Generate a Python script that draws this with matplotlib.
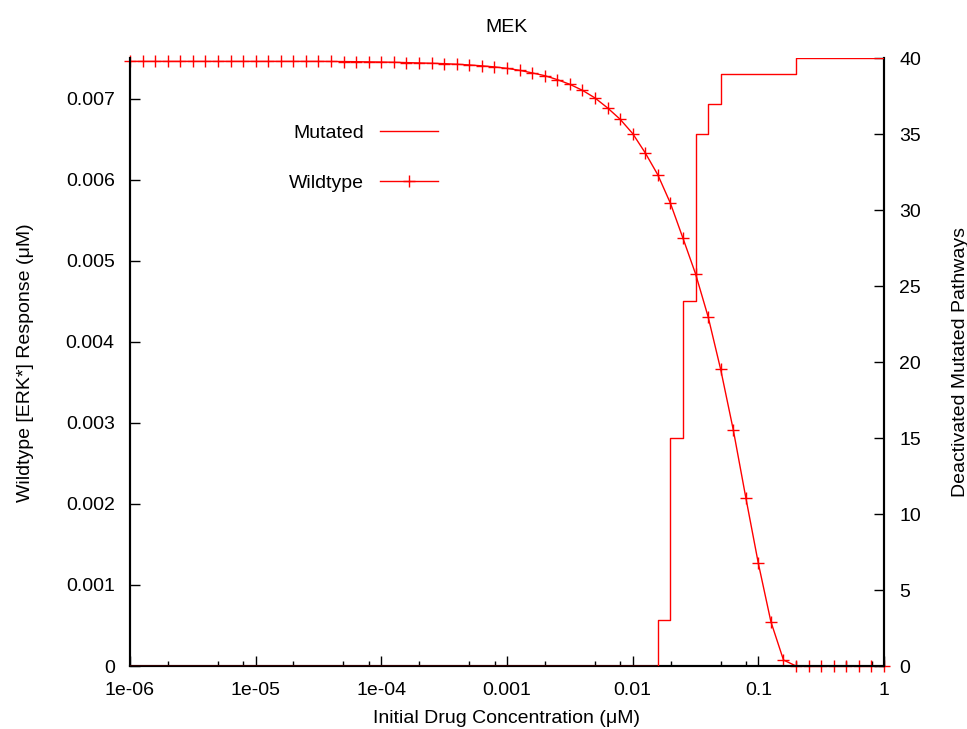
import numpy as np
import matplotlib
matplotlib.use("Agg")
from matplotlib import pyplot as plt
from matplotlib.ticker import FixedLocator, LogLocator, NullFormatter

plt.rcParams['font.family'] = ['Liberation Sans', 'DejaVu Sans']
plt.rcParams['font.size'] = 14

# x grid: 10 points per decade, 1e-6 .. 1 uM
log_conc = np.arange(-60, 1) / 10
conc = 10.0 ** log_conc

# Wildtype [ERK*] response (uM)
wildtype = [
    0.007463, 0.007463, 0.007463, 0.007463, 0.007463, 0.007463, 0.007463, 0.007463, 0.007463, 0.007463,
    0.007463, 0.007463, 0.007463, 0.007463, 0.007463, 0.007463, 0.007462, 0.007461, 0.007459, 0.007457,
    0.007455, 0.007452, 0.007448, 0.007444, 0.007440, 0.007435, 0.007428, 0.007419, 0.007408, 0.007395,
    0.007377, 0.007353, 0.007321, 0.007287, 0.007238, 0.007180, 0.007106, 0.007012, 0.006889, 0.006749,
    0.006572, 0.006334, 0.006063, 0.005713, 0.005281, 0.004842, 0.004313, 0.003662, 0.002919, 0.002080,
    0.001266, 0.000546, 0.000074, 0.0, 0.0, 0.0, 0.0, 0.0, 0.0, 0.0,
    0.0,
]

# Number of deactivated mutated pathways
mutated = [0] * 42 + [3, 15, 24, 35, 37, 39, 39, 39, 39, 39, 39] + [40] * 8

left_ticks = [0, 0.001, 0.002, 0.003, 0.004, 0.005, 0.006, 0.007]
left_labels = ['0', '0.001', '0.002', '0.003', '0.004', '0.005', '0.006', '0.007']
right_ticks = [0, 5, 10, 15, 20, 25, 30, 35, 40]
x_ticks = [1e-6, 1e-5, 1e-4, 1e-3, 1e-2, 1e-1, 1]
x_labels = ['1e-06', '1e-05', '1e-04', '0.001', '0.01', '0.1', '1']

fig = plt.figure(figsize=(9.67, 7.29), dpi=100)
ax = fig.add_axes([0.1344, 0.0864, 0.9142 - 0.1344, 0.9199 - 0.0864])
ax2 = ax.twinx()

wt_line, = ax.plot(conc, wildtype, color='#ff0000', lw=1.0, marker='+', ms=9, mew=1.0,
                   clip_on=False, zorder=5)
mut_line, = ax2.plot(conc, mutated, color='#ff0000', lw=1.0, drawstyle='steps-post', zorder=4)

ax.set_xscale('log')
ax.set_xlim(1e-6, 1)
ax.set_ylim(0, 0.0075)
ax2.set_ylim(0, 40)

ax.xaxis.set_major_locator(FixedLocator(x_ticks))
ax.set_xticklabels(x_labels)
ax.xaxis.set_minor_locator(LogLocator(base=10, subs=[2, 5, 8]))
ax.xaxis.set_minor_formatter(NullFormatter())
ax.set_yticks(left_ticks)
ax.set_yticklabels(left_labels)
ax2.set_yticks(right_ticks)

for a in (ax, ax2):
    a.spines['top'].set_visible(False)
    for s in ('left', 'bottom', 'right'):
        a.spines[s].set_linewidth(1.5)
    a.tick_params(which='major', direction='in', length=7, width=1.0, labelsize=14)
    a.tick_params(which='minor', direction='in', length=3.5, width=1.0)
ax.tick_params(axis='x', which='both', top=False, pad=11.5)
ax.tick_params(axis='y', right=False, pad=11)
ax2.tick_params(axis='y', pad=11)

ax.set_xlabel('Initial Drug Concentration (μM)', fontsize=14, labelpad=8)
ax.set_ylabel('Wildtype [ERK*] Response (μM)', fontsize=14, labelpad=23)
ax2.set_ylabel('Deactivated Mutated Pathways', fontsize=14, labelpad=22)
ax.set_title('MEK', fontsize=14, pad=19)

leg = fig.legend([mut_line, wt_line], ['Mutated', 'Wildtype'], loc='center',
                 bbox_to_anchor=(0.376, 0.783), frameon=False, markerfirst=False,
                 handlelength=3.0, labelspacing=1.65, fontsize=14, handletextpad=0.8)

fig.savefig('out.png', dpi=100)
